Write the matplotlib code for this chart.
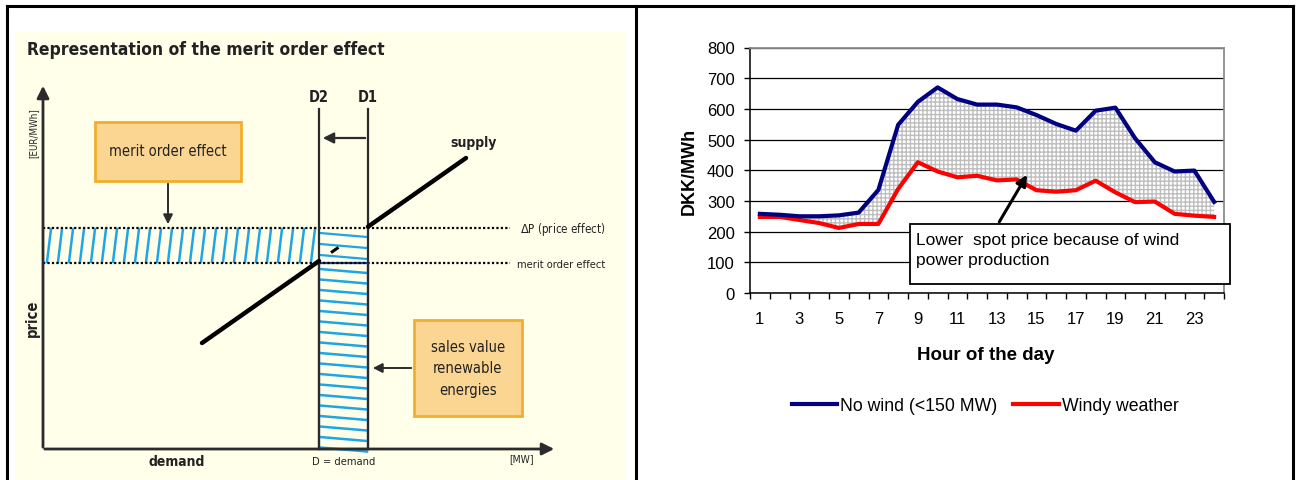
import numpy as np
import matplotlib.pyplot as plt
from matplotlib.patches import Rectangle

# spot price per hour (DKK/MWh)
hours = np.arange(1, 25)
no_wind = [258, 255, 250, 250, 253, 262, 336, 548, 623, 670, 632, 614, 614, 605,
           580, 551, 529, 594, 604, 504, 426, 396, 399, 297]
windy = [248, 248, 238, 228, 212, 225, 225, 339, 426, 396, 377, 382, 367, 370,
         335, 330, 335, 366, 328, 296, 298, 258, 252, 248]
y_ticks = [0, 100, 200, 300, 400, 500, 600, 700, 800]
x_label_hours = [1, 3, 5, 7, 9, 11, 13, 15, 17, 19, 21, 23]
legend_labels = ['No wind (<150 MW)', 'Windy weather']

W, H = 1299, 481
fig = plt.figure(figsize=(W / 100, H / 100), dpi=100)

narrow = ['DejaVu Sans']
arial = ['Liberation Sans', 'DejaVu Sans']
nkw = dict(family=narrow, fontstretch='condensed', color='#222222')

# ---- overlay in pixel coordinates: frame + merit order sketch ----
ov = fig.add_axes([0, 0, 1, 1])
ov.set_xlim(0, W)
ov.set_ylim(H, 0)
ov.axis('off')

# table frame
ov.plot([7, 1293], [7, 7], color='black', lw=2.2)
ov.plot([7, 7], [7, H], color='black', lw=2.2)
ov.plot([636, 636], [7, H], color='black', lw=2.2)
ov.plot([1293, 1293], [7, H], color='black', lw=2.2)

# cream panel
ov.add_patch(Rectangle((15, 33), 610, 450, facecolor='#FFFFEA', edgecolor='none'))
ov.text(27, 50, 'Representation of the merit order effect', fontsize=12.5,
        fontweight='bold', va='center', **nkw)

blue = '#1EA5E6'
dark = '#2B2B2B'
x0, ybase = 43, 450          # sketch origin
xd2, xd1 = 319, 368          # demand lines
p_hi, p_lo = 229, 264        # price levels

# stripes in the merit order band
for xs in np.arange(47, xd2, 11):
    ov.plot([xs, xs + 4], [p_lo - 1, p_hi + 1], color=blue, lw=1.8)
# stripes between D2 and D1 above the lower price
for ys in [236, 247, 258]:
    ov.plot([xd2 + 1, xd1 - 1], [ys - 2, ys + 2], color=blue, lw=1.6)
# sales value block
for ys in np.arange(270, ybase, 10.5):
    ov.plot([xd2 + 1, xd1 - 1], [ys, ys + 4], color=blue, lw=1.8)
ov.add_patch(Rectangle((xd2, p_lo), xd1 - xd2, ybase - p_lo, facecolor='none',
                       edgecolor='#1F3C96', lw=1.6))

# dotted price lines
ov.plot([x0, 510], [p_hi, p_hi], color='black', lw=1.6, ls=(0, (1, 1)))
ov.plot([x0, 510], [p_lo, p_lo], color='black', lw=1.6, ls=(0, (1, 1)))
ov.text(520, p_hi + 1, r'$\Delta$P (price effect)', fontsize=8.3, va='center', **nkw)
ov.text(517, p_lo + 1, 'merit order effect', fontsize=8, va='center', **nkw)

# demand lines D2, D1
for xd, lab in [(xd2, 'D2'), (xd1, 'D1')]:
    ov.plot([xd, xd], [110, ybase], color=dark, lw=1.6)
    ov.text(xd, 98, lab, fontsize=10.5, fontweight='bold', ha='center', va='center', **nkw)
ov.annotate('', xy=(xd2 + 1, 139), xytext=(xd1, 139),
            arrowprops=dict(arrowstyle='-|>', color=dark, lw=1.6, mutation_scale=16))

# supply curve
sx = np.array([202, 466])
sy = np.array([344, 159])
slope = (sy[1] - sy[0]) / (sx[1] - sx[0])
ov.plot([sx[0], xd2], [sy[0], sy[0] + slope * (xd2 - sx[0])], color='black', lw=3.2,
        solid_capstyle='round')
ov.plot([xd1, sx[1]], [sy[0] + slope * (xd1 - sx[0]), sy[1]], color='black', lw=3.2,
        solid_capstyle='round')
ov.plot([xd2 + 12, xd1 - 12], [sy[0] + slope * (xd2 + 12 - sx[0]),
                                sy[0] + slope * (xd1 - 12 - sx[0])],
        color='black', lw=2.2, ls=(0, (3, 8)))
ov.text(474, 143, 'supply', fontsize=10, fontweight='bold', ha='center', va='center', **nkw)

# axes of the sketch
ov.annotate('', xy=(x0, 84), xytext=(x0, ybase + 1),
            arrowprops=dict(arrowstyle='-|>', color=dark, lw=2, mutation_scale=18))
ov.annotate('', xy=(557, ybase), xytext=(x0 - 1, ybase),
            arrowprops=dict(arrowstyle='-|>', color=dark, lw=2, mutation_scale=18))
ov.text(33, 133, '[EUR/MWh]', fontsize=7, rotation=90, ha='center', va='center', **nkw)
ov.text(32, 318, 'price', fontsize=10.5, fontweight='bold', rotation=90,
        ha='center', va='center', **nkw)
ov.text(177, 462, 'demand', fontsize=10, fontweight='bold', ha='center', va='center', **nkw)
ov.text(344, 462, 'D = demand', fontsize=8, ha='center', va='center', **nkw)
ov.text(522, 459, '[MW]', fontsize=7.5, ha='center', va='center', **nkw)

# label boxes
box_fc, box_ec = '#FBD592', '#F1AE2E'
ov.add_patch(Rectangle((95, 123), 146, 59, facecolor=box_fc, edgecolor=box_ec, lw=2))
ov.text(168, 152, 'merit order effect', fontsize=10.5, ha='center', va='center', **nkw)
ov.annotate('', xy=(168, p_hi - 1), xytext=(168, 182),
            arrowprops=dict(arrowstyle='-|>', color=dark, lw=1.4, mutation_scale=14))
ov.add_patch(Rectangle((414, 321), 108, 96, facecolor=box_fc, edgecolor=box_ec, lw=2))
ov.text(468, 369, 'sales value\nrenewable\nenergies', fontsize=10.5,
        ha='center', va='center', linespacing=1.55, **nkw)
ov.annotate('', xy=(xd1 + 2, 369), xytext=(414, 369),
            arrowprops=dict(arrowstyle='-|>', color=dark, lw=1.4, mutation_scale=14))

# ---- right chart: spot prices ----
left, right, top, bottom = 750, 1224, 48.5, 294
ax = fig.add_axes([left / W, (H - bottom) / H, (right - left) / W, (bottom - top) / H])
ax.set_xlim(0.5, 24.5)
ax.set_ylim(0, 800)

plt.rcParams['hatch.linewidth'] = 1.0
ax.fill_between(hours, windy, no_wind, facecolor='white', edgecolor='#BEBEBE',
                hatch='++++', lw=0, zorder=2)
ax.plot(hours, no_wind, color='#000080', lw=3, zorder=4, label=legend_labels[0])
ax.plot(hours, windy, color='#FF0000', lw=3, zorder=3, label=legend_labels[1])

ax.set_yticks(y_ticks)
ax.yaxis.grid(True, color='black', lw=0.9)
ax.set_axisbelow(True)
ax.set_xticks(np.arange(0.5, 25, 1))
ax.set_xticklabels([])
ax.set_xticks(x_label_hours, minor=True)
ax.set_xticklabels([str(h) for h in x_label_hours], minor=True)
ax.tick_params(axis='x', which='major', direction='out', length=4.5, width=1)
ax.tick_params(axis='x', which='minor', length=0, pad=13)
ax.tick_params(axis='y', direction='out', length=4, width=1, pad=7)
for lab in ax.get_xticklabels(minor=True) + ax.get_yticklabels():
    lab.set_family(arial)
    lab.set_fontsize(12)
for side in ['top', 'right']:
    ax.spines[side].set_color('#8C8C8C')
    ax.spines[side].set_linewidth(1.3)
for side in ['left', 'bottom']:
    ax.spines[side].set_color('black')
    ax.spines[side].set_linewidth(1.1)

fig.text(689 / W, 1 - 171 / H, 'DKK/MWh', family=arial, fontsize=13, fontweight='bold',
         rotation=90, ha='center', va='center')
fig.text(986 / W, 1 - 356 / H, 'Hour of the day', family=arial, fontsize=13.5,
         fontweight='bold', ha='center', va='center')

# annotation box with arrow
ax.add_patch(Rectangle((0.338, 0.037), 0.675, 0.244, transform=ax.transAxes,
                       facecolor='white', edgecolor='black', lw=1.3, clip_on=False, zorder=5))
ax.text(0.351, 0.176, 'Lower  spot price because of wind\npower production',
        transform=ax.transAxes, family=arial, fontsize=12.5, va='center',
        linespacing=1.45, zorder=6)
ax.annotate('', xy=(14.6, 393), xytext=(13.05, 224),
            arrowprops=dict(arrowstyle='-|>', color='black', lw=2.2, mutation_scale=16),
            zorder=6)

leg = fig.legend(loc='center', bbox_to_anchor=(985 / W, 1 - 407 / H), ncol=2,
                 frameon=False, handlelength=2.6, handletextpad=0.15,
                 columnspacing=0.9, prop={'family': arial, 'size': 12.7})

fig.savefig('out.png', dpi=100)
